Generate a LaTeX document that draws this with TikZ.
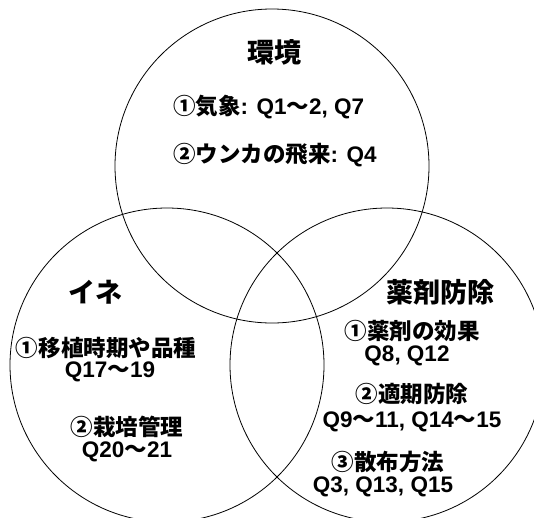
\documentclass[tikz,border=0pt]{standalone}
\usepackage{fontspec}
\setmainfont{Liberation Sans}
\newfontfamily\jp{Noto Sans CJK JP}
\newcommand{\J}[1]{{\jp\bfseries #1}}
\begin{document}
\begin{tikzpicture}[x=1pt,y=-1pt,
  ring/.style={draw=black,line width=0.8pt,circle,minimum size=314pt,inner sep=0pt},
  ttl/.style={inner sep=0pt,font=\fontsize{27}{30}\selectfont\bfseries},
  txt/.style={inner sep=0pt,font=\fontsize{22.5}{26}\selectfont\bfseries}]
\useasboundingbox (0,0) rectangle (534,517);
\clip (0,0) rectangle (534,517);
\node[ring] (env) at (272,166) {};
\node[ring] (rice) at (167,365) {};
\node[ring] (chem) at (387,365) {};
\node[ttl] (envT) at (274,52) {\J{環境}};
\node[txt,anchor=west] (env1) at (173,107) {\J{①気象}: Q1\J{～}2, Q7};
\node[txt,anchor=west] (env2) at (173,155) {\J{②ウンカの飛来}: Q4};
\node[ttl] (riceT) at (95,292) {\J{イネ}};
\node[txt] (rice1) at (106,348) {\J{①移植時期や品種}};
\node[txt] (rice2) at (110,372) {Q17\J{～}19};
\node[txt] (rice3) at (127,427) {\J{②栽培管理}};
\node[txt] (rice4) at (127,452) {Q20\J{～}21};
\node[ttl] (chemT) at (440,292) {\J{薬剤防除}};
\node[txt] (chem1) at (412,331) {\J{①薬剤の効果}};
\node[txt] (chem2) at (407,356) {Q8, Q12};
\node[txt] (chem3) at (412,394) {\J{②適期防除}};
\node[txt] (chem4) at (412,422) {Q9\J{～}11, Q14\J{～}15};
\node[txt] (chem5) at (388,462) {\J{③散布方法}};
\node[txt] (chem6) at (383,487) {Q3, Q13, Q15};
\end{tikzpicture}
\end{document}
